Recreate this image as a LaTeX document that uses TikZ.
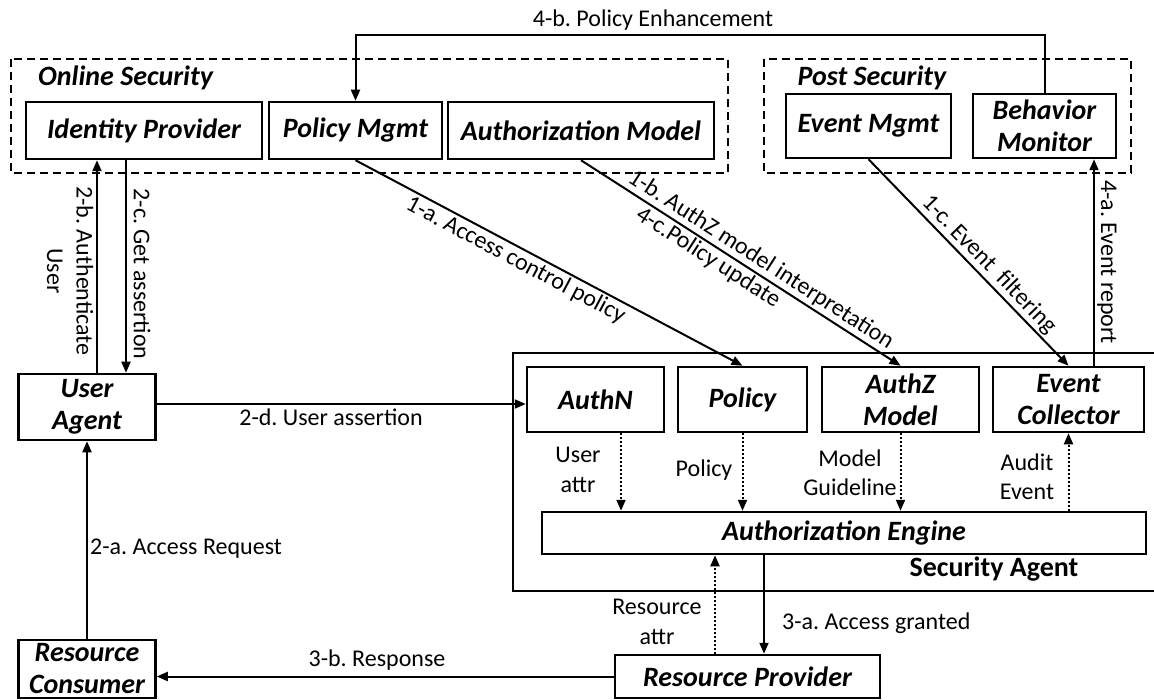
\documentclass[tikz,border=0pt]{standalone}
\usepackage{fontspec}
\setmainfont{Carlito}
\usetikzlibrary{arrows.meta,calc}
\frenchspacing
\begin{document}
\begin{tikzpicture}[x=1pt,y=-1pt,
  box/.style={draw,line width=2.5pt,inner sep=0pt,font=\fontsize{28}{32}\selectfont\bfseries\itshape,align=center},
  lbl/.style={font=\fontsize{24}{29.5}\selectfont,align=center,inner sep=2pt},
  grptitle/.style={font=\fontsize{28}{32}\selectfont\bfseries\itshape,inner sep=0pt},
  grp/.style={draw,line width=2.2pt,dash pattern=on 8pt off 5pt},
  arr/.style={line width=2pt,-{Triangle[length=11pt,width=9pt]}},
  dotarr/.style={line width=2pt,dash pattern=on 2pt off 2pt,-{Triangle[length=11pt,width=9pt]}},
]
\useasboundingbox (0,0) rectangle (1154,700);

% group frames
\draw[grp] (11,59) rectangle (728,173);
\draw[grp] (764,59) rectangle (1131,173);
\node[grptitle,anchor=west] (ost) at (38,78) {Online Security};
\node[grptitle] (pst) at (872,78) {Post Security};

% top boxes
\node[box,minimum width=236pt,minimum height=57pt] (idp) at (144,130.5) {Identity Provider};
\node[box,minimum width=173pt,minimum height=57pt] (pm) at (355.5,130.5) {Policy Mgmt};
\node[box,minimum width=266pt,minimum height=57pt] (am) at (581,130.5) {Authorization Model};
\node[box,minimum width=165pt,minimum height=64pt] (em) at (868.5,126) {Event Mgmt};
\node[box,minimum width=143pt,minimum height=64pt] (bm) at (1044.5,126) {Behavior\\Monitor};

% left boxes
\node[box,minimum width=137pt,minimum height=66pt] (ua) at (87,407) {User\\Agent};
\node[box,minimum width=137pt,minimum height=58pt] (rc) at (87,669) {Resource\\Consumer};

% security agent
\coordinate (sa1) at (1160,353);
\coordinate (sa2) at (513,353);
\coordinate (sa3) at (513,591);
\coordinate (sa4) at (1160,591);
\draw[line width=2.5pt] (sa1) -- (sa2) -- (sa3) -- (sa4);
\node[font=\fontsize{28}{32}\selectfont\bfseries,inner sep=0pt] (satitle) at (994,569) {Security Agent};

\node[box,minimum width=137pt,minimum height=65pt] (authn) at (595.5,399.5) {AuthN};
\node[box,minimum width=129pt,minimum height=65pt] (pol) at (742.5,399.5) {Policy};
\node[box,minimum width=157pt,minimum height=65pt] (azm) at (900.5,399.5) {AuthZ\\Model};
\node[box,minimum width=151pt,minimum height=65pt] (ec) at (1068.5,399.5) {Event\\Collector};
\node[box,minimum width=604pt,minimum height=42pt] (eng) at (844,533) {Authorization Engine};
\node[box,minimum width=265pt,minimum height=43pt] (rp) at (747.5,676.5) {Resource Provider};

% 4-b policy enhancement
\coordinate (top) at (700,35);
\draw[arr] (bm.north) |- (top) -| (pm.north);
\node[lbl] (l4b) at (653,20) {4-b. Policy Enhancement};

% identity provider <-> user agent
\draw[arr] ([xshift=10pt]ua.north) -- ([xshift=10pt]ua.north |- idp.south);
\draw[arr] ([xshift=39pt]ua.north |- idp.south) -- ([xshift=39pt]ua.north);
\node[lbl,rotate=-90] (l2b) at (70,271) {2-b. Authenticate\\User};
\node[lbl,rotate=-90] (l2c) at (142,274) {2-c. Get assertion};

% user agent -> authn
\draw[arr] ([yshift=3pt]ua.east) -- ([yshift=3pt]ua.east -| authn.west);
\node[lbl] (l2d) at (331,417) {2-d. User assertion};

% resource consumer -> user agent
\draw[arr] (rc.north) -- (ua.south);
\node[lbl,anchor=west] (l2a) at (88,549) {2-a. Access Request};

% resource provider -> resource consumer
\draw[arr] (rp.west) -- (rp.west -| rc.east);
\node[lbl] (l3b) at (377,660) {3-b. Response};

% engine <-> resource provider
\draw[arr] ([xshift=16.5pt]rp.north |- eng.south) -- ([xshift=16.5pt]rp.north);
\node[lbl,anchor=west] (l3a) at (780,623) {3-a. Access granted};
\draw[dotarr] ([xshift=-32.5pt]rp.north) -- ([xshift=-32.5pt]rp.north |- eng.south);
\node[lbl] (lra) at (657,622) {Resource\\attr};

% diagonal connectors
\draw[arr] (pm.south) -- node[lbl,sloped,below,pos=0.43] {1-a. Access control policy} (pol.north);
\draw[arr] (am.south) -- node[lbl,sloped,above,pos=0.54] {1-b. AuthZ model interpretation}
                         node[lbl,sloped,below,pos=0.42] {4-c.Policy update} (azm.north);
\draw[arr] (em.south) -- node[lbl,sloped,above,pos=0.555] {1-c. Event~~filtering} (ec.north);

% event collector -> behavior monitor
\draw[arr] ([xshift=25.5pt]ec.north) -- ([xshift=25.5pt]ec.north |- bm.south);
\node[lbl,rotate=-90] (l4a) at (1107,262) {4-a. Event report};

% dotted into / out of engine
\draw[dotarr] ([xshift=25.5pt]authn.south) -- ([xshift=25.5pt]authn.south |- eng.north);
\draw[dotarr] (pol.south) -- (pol.south |- eng.north);
\draw[dotarr] (azm.south) -- (azm.south |- eng.north);
\draw[dotarr] (ec.south |- eng.north) -- (ec.south);
\node[lbl] (lua) at (578,470) {User\\attr};
\node[lbl] (lpo) at (704,470) {Policy};
\node[lbl] (lmg) at (850,473) {Model\\Guideline};
\node[lbl] (lae) at (1027,477) {Audit\\Event};
\end{tikzpicture}
\end{document}
